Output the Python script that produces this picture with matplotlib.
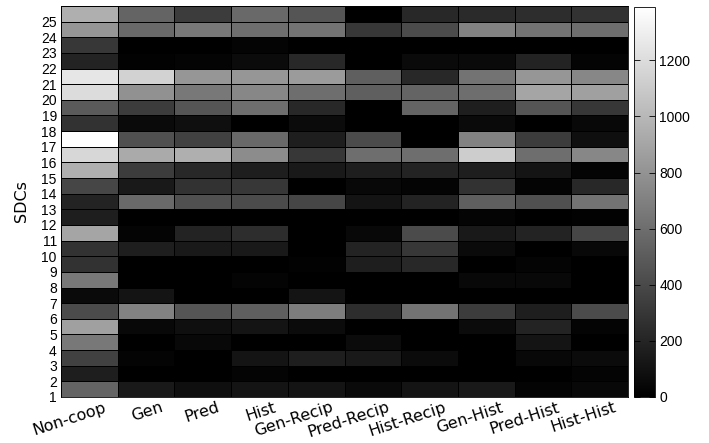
import numpy as np
import matplotlib
matplotlib.use("Agg")
import matplotlib.pyplot as plt

plt.rcParams['font.family'] = ['Liberation Sans', 'DejaVu Sans']

strategies = ["Non-coop", "Gen", "Pred", "Hist", "Gen-Recip", "Pred-Recip",
              "Hist-Recip", "Gen-Hist", "Pred-Hist", "Hist-Hist"]
sdc_labels = [str(i) for i in range(1, 26)]

# values per SDC (row 1 .. row 25), columns follow `strategies`
sdc01 = [545, 136, 82, 109, 109, 55, 109, 136, 27, 44]
sdc02 = [164, 0, 0, 27, 0, 0, 0, 0, 0, 27]
sdc03 = [354, 27, 0, 109, 164, 136, 65, 0, 44, 65]
sdc04 = [654, 0, 44, 0, 0, 65, 0, 0, 109, 0]
sdc05 = [872, 44, 82, 109, 65, 0, 0, 65, 191, 27]
sdc06 = [409, 709, 463, 518, 681, 245, 627, 327, 164, 409]
sdc07 = [55, 109, 0, 0, 109, 0, 0, 0, 0, 0]
sdc08 = [654, 0, 0, 27, 0, 0, 0, 44, 44, 0]
sdc09 = [273, 0, 0, 0, 16, 164, 218, 0, 27, 0]
sdc10 = [273, 164, 136, 136, 0, 191, 300, 55, 0, 44]
sdc11 = [899, 27, 191, 245, 0, 44, 409, 136, 191, 382]
sdc12 = [164, 0, 0, 0, 0, 0, 0, 27, 0, 16]
sdc13 = [191, 572, 436, 409, 382, 109, 191, 518, 436, 627]
sdc14 = [382, 136, 273, 300, 0, 44, 27, 273, 27, 218]
sdc15 = [954, 327, 218, 164, 136, 164, 191, 164, 109, 27]
sdc16 = [1172, 927, 954, 763, 300, 600, 600, 1117, 600, 736]
sdc17 = [1390, 436, 354, 572, 164, 409, 0, 709, 327, 82]
sdc18 = [273, 55, 82, 0, 65, 0, 0, 55, 0, 44]
sdc19 = [491, 327, 463, 600, 218, 0, 545, 164, 463, 300]
sdc20 = [1199, 790, 654, 736, 600, 518, 545, 600, 899, 872]
sdc21 = [1254, 1145, 818, 818, 845, 518, 218, 627, 818, 736]
sdc22 = [191, 16, 27, 65, 218, 0, 55, 55, 191, 27]
sdc23 = [300, 0, 0, 27, 0, 0, 0, 0, 0, 0]
sdc24 = [818, 572, 654, 600, 627, 300, 409, 709, 627, 600]
sdc25 = [954, 545, 327, 572, 463, 0, 218, 229, 245, 273]

data = np.array([sdc01, sdc02, sdc03, sdc04, sdc05, sdc06, sdc07, sdc08, sdc09,
                 sdc10, sdc11, sdc12, sdc13, sdc14, sdc15, sdc16, sdc17, sdc18,
                 sdc19, sdc20, sdc21, sdc22, sdc23, sdc24, sdc25], dtype=float)

W, H = 709, 443
fig = plt.figure(figsize=(W / 100, H / 100), dpi=100)
ax = fig.add_axes([61 / W, 1 - 397 / H, (628 - 61) / W, (397 - 6) / H])

n_rows, n_cols = data.shape
xe = np.arange(n_cols + 1)
ye = np.arange(1, n_rows + 2)
mesh = ax.pcolormesh(xe, ye, data, cmap='gray', vmin=0, vmax=data.max(),
                     edgecolors='black', linewidth=0.6)
ax.set_xlim(0, n_cols)
ax.set_ylim(1, n_rows + 1)

ax.set_yticks(np.arange(1, n_rows + 1))
ax.set_yticklabels(sdc_labels, fontsize=10)
ax.tick_params(axis='y', length=0, pad=3)

ax.set_xticks(np.arange(n_cols) + 0.75)
ax.set_xticklabels(strategies, fontsize=11.5, rotation=18, ha='right', va='top',
                   rotation_mode='anchor', family='DejaVu Sans')
ax.tick_params(axis='x', length=0, pad=2)

ax.set_ylabel("SDCs", fontsize=11.5, labelpad=9, family='DejaVu Sans')
for s in ax.spines.values():
    s.set_linewidth(0.6)

cax = fig.add_axes([634 / W, 1 - 397 / H, 21 / W, (397 - 7) / H])
cb = fig.colorbar(mesh, cax=cax)
cb.set_ticks([0, 200, 400, 600, 800, 1000, 1200])
cb.outline.set_linewidth(0.6)
cax.tick_params(direction='in', length=4, width=0.6, left=True, right=True,
                labelsize=10, pad=3)

fig.savefig("out.png", dpi=100)
